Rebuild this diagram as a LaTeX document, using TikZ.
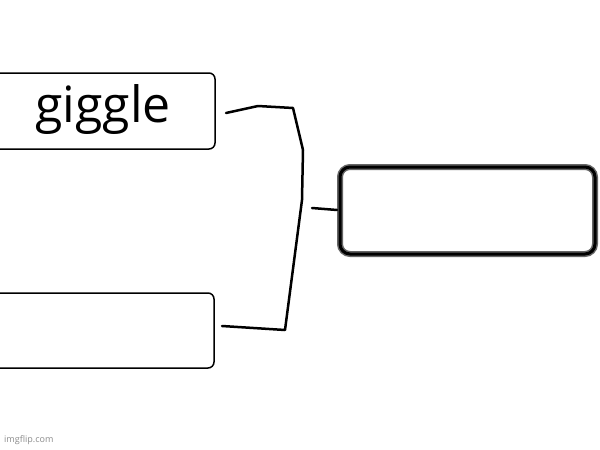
\documentclass[tikz,border=0pt]{standalone}
\usepackage{fontspec}
\setmainfont{Open Sans}
\begin{document}
\begin{tikzpicture}[x=1pt,y=-1pt,
  boxs/.style={draw=black,line width=1.5pt,rounded corners=6pt},
  conn/.style={line width=2.5pt,line join=round,line cap=round}]
\useasboundingbox (0,0) rectangle (600,450);
\fill[white] (0,0) rectangle (600,450);
\draw[boxs] (-10,73) rectangle (215,149);
\node (a) at (103,110) {\fontsize{50}{54}\selectfont giggle};
\draw[boxs] (-10,293) rectangle (214,368);
\draw[line width=6pt,black!60,rounded corners=10pt] (340,167) rectangle (595,254);
\draw[line width=3pt,black,rounded corners=10pt] (340,167) rectangle (595,254);
\coordinate (cl) at (337,210);
\draw[conn] (226,113) -- (258,106) -- (293,108) -- (303,150) -- (302,200) -- (285,330) -- (222,326);
\draw[conn] (312,208) -- (cl);
\node[anchor=west,text=black!45,inner sep=0] (w) at (4,440) {\fontsize{9}{10}\selectfont imgflip.com};
\end{tikzpicture}
\end{document}
